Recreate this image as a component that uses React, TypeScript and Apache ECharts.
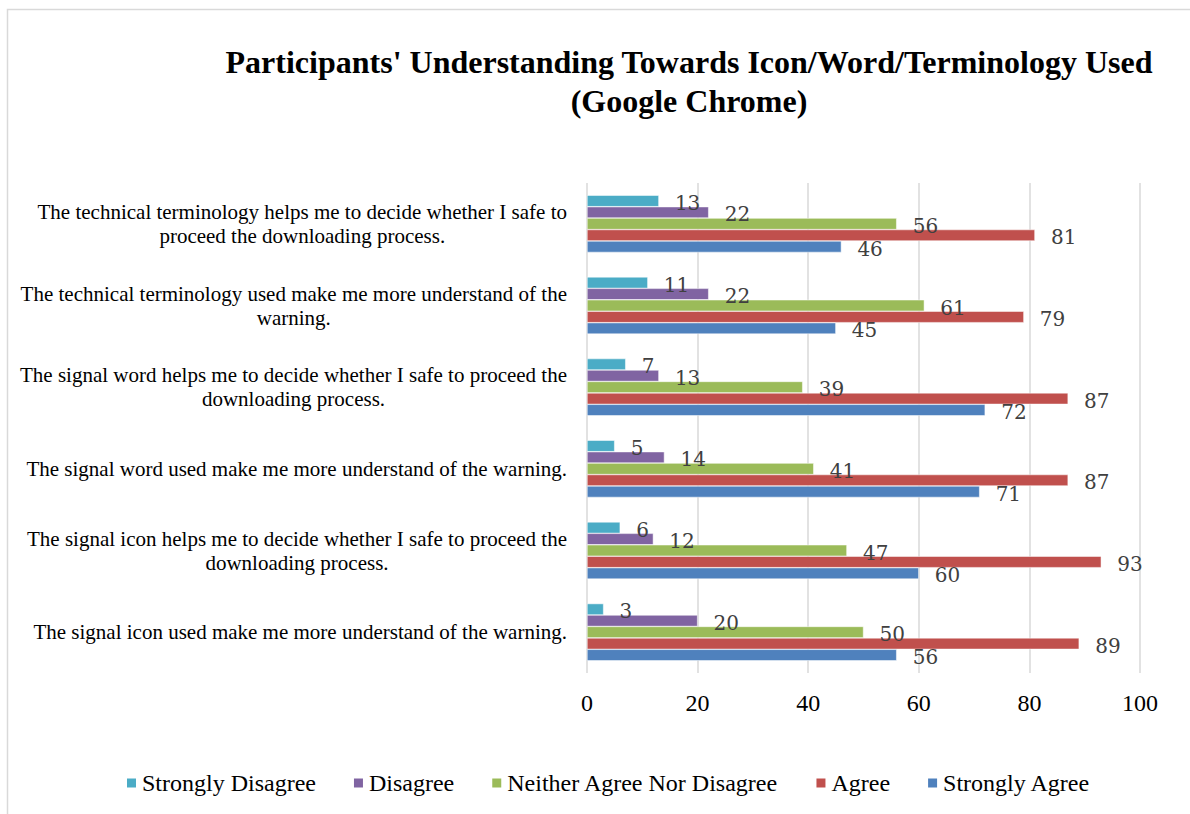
import React, { useEffect, useRef } from "react";
import * as echarts from "echarts";

const categories: string[] = [
  "The signal icon used make me more understand of the warning.",
  "The signal icon helps me to decide whether I safe to proceed the\ndownloading process.",
  "The signal word used make me more understand of the warning.",
  "The signal word helps me to decide whether I safe to proceed the\ndownloading process.",
  "The technical terminology used make me more understand of the\nwarning.",
  "The technical terminology helps me to decide whether I safe to\nproceed the downloading process.",
];

const seriesNames: string[] = [
  "Strongly Disagree",
  "Disagree",
  "Neither Agree Nor Disagree",
  "Agree",
  "Strongly Agree",
];

const stronglyDisagree: number[] = [3, 6, 5, 7, 11, 13];
const disagree: number[] = [20, 12, 14, 13, 22, 22];
const neither: number[] = [50, 47, 41, 39, 61, 56];
const agree: number[] = [89, 93, 87, 87, 79, 81];
const stronglyAgree: number[] = [56, 60, 71, 72, 45, 46];

const xTicks: number[] = [0, 20, 40, 60, 80, 100];

const colors = ["#4BACC6", "#8064A2", "#9BBB59", "#C0504D", "#4F81BD"];

export default function App() {
  const ref = useRef<HTMLDivElement>(null);
  useEffect(() => {
    if (!ref.current) return;
    const chart = echarts.init(ref.current, undefined, { renderer: "svg" });
    const values = [stronglyDisagree, disagree, neither, agree, stronglyAgree];
    chart.setOption({
      animation: false,
      backgroundColor: "#ffffff",
      title: {
        text: "Participants' Understanding Towards Icon/Word/Terminology Used\n(Google Chrome)",
        left: 689,
        top: 42,
        padding: 0,
        textAlign: "center",
        textStyle: {
          fontFamily: "Liberation Serif",
          fontWeight: "bold",
          fontSize: 32,
          lineHeight: 39,
          color: "#000000",
        },
      },
      graphic: [
        {
          type: "rect",
          shape: { x: 7.5, y: 9.5, width: 1400, height: 1000 },
          style: { fill: "none", stroke: "#d9d9d9", lineWidth: 1.5 },
          silent: true,
        },
      ],
      legend: {
        data: seriesNames,
        left: 125,
        top: 771,
        padding: 0,
        icon: "rect",
        itemWidth: 11,
        itemHeight: 11,
        itemGap: 36,
        textStyle: {
          fontFamily: "Liberation Serif",
          fontSize: 24,
          color: "#000000",
        },
      },
      grid: { left: 587, right: 50, top: 183, bottom: 141, containLabel: false },
      xAxis: {
        type: "value",
        min: xTicks[0],
        max: xTicks[xTicks.length - 1],
        interval: 20,
        axisLine: { show: false },
        axisTick: { show: false },
        splitLine: { lineStyle: { color: "#d9d9d9", width: 1.5 } },
        axisLabel: {
          margin: 18,
          fontFamily: "Liberation Serif",
          fontSize: 24,
          color: "#000000",
        },
      },
      yAxis: {
        type: "category",
        data: categories,
        axisLine: { show: false },
        axisTick: { show: false },
        axisLabel: {
          margin: 20,
          formatter: (v: string) =>
            v
              .split("\n")
              .map((l) => `{c|${l}}`)
              .join("\n"),
          rich: {
            c: {
              fontFamily: "Liberation Serif",
              fontSize: 21,
              lineHeight: 24,
              color: "#000000",
              align: "center",
            },
          },
        },
      },
      series: seriesNames.map((name, i) => ({
        name,
        type: "bar",
        data: values[i],
        barGap: "0%",
        barCategoryGap: "30%",
        itemStyle: { color: colors[i], borderColor: "#ffffff", borderWidth: 0.5 },
        label: {
          show: true,
          position: "right",
          distance: 16,
          offset: [0, 2],
          fontFamily: "DejaVu Serif",
          fontSize: 20,
          color: "#404040",
        },
      })),
    });
    return () => chart.dispose();
  }, []);
  return (
    <div
      ref={ref}
      style={{ position: "absolute", left: 0, top: 0, width: 1190, height: 814 }}
    />
  );
}
